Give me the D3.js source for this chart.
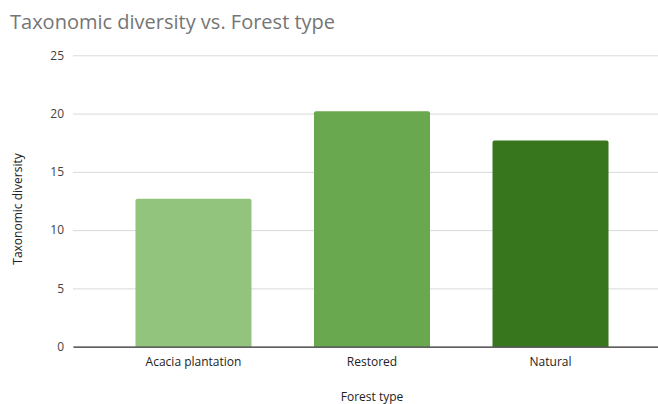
<!DOCTYPE html>
<html>
<head>
<meta charset="utf-8">
<script src="https://cdn.jsdelivr.net/npm/d3@7"></script>
<style>
  html, body { margin: 0; padding: 0; background: #fff; }
  svg { display: block; font-family: "Open Sans", sans-serif; }
</style>
</head>
<body>
<svg id="chart" width="658" height="404"></svg>
<script>
// Taxonomic diversity by forest type
const categories = ["Acacia plantation", "Restored", "Natural"];
const values = [12.7, 20.2, 17.7];
const barColors = ["#93c47d", "#6aa84f", "#38761d"];
const yTicks = [0, 5, 10, 15, 20, 25];

const svg = d3.select("#chart");
const plot = { left: 73, right: 671, top: 55.3, bottom: 346.7 };

const x = d3.scaleBand()
  .domain(categories)
  .range([plot.left, plot.right])
  .paddingInner(0.35)
  .paddingOuter(0.35);

const y = d3.scaleLinear()
  .domain([0, 25])
  .range([plot.bottom, plot.top]);

// Title
svg.append("text")
  .attr("x", 10)
  .attr("y", 29)
  .attr("fill", "#757575")
  .attr("font-size", 20)
  .text("Taxonomic diversity vs. Forest type");

// Gridlines and y tick labels
const yAxis = d3.axisLeft(y)
  .tickValues(yTicks)
  .tickSize(-(plot.right - plot.left))
  .tickPadding(9);

const gy = svg.append("g")
  .attr("transform", `translate(${plot.left},0)`)
  .call(yAxis);
gy.select(".domain").remove();
gy.selectAll(".tick line").attr("stroke", "#d9d9d9").attr("stroke-width", 1);
gy.selectAll(".tick text")
  .attr("fill", "#444")
  .attr("font-size", 12)
  .attr("font-family", "Open Sans, sans-serif");

// Bars with slightly rounded top corners
const r = 2;
svg.append("g")
  .selectAll("path")
  .data(categories)
  .join("path")
  .attr("fill", (d, i) => barColors[i])
  .attr("d", (d, i) => {
    const x0 = x(d), w = x.bandwidth();
    const yt = y(values[i]), yb = y(0);
    return `M${x0},${yb}V${yt + r}Q${x0},${yt} ${x0 + r},${yt}` +
           `H${x0 + w - r}Q${x0 + w},${yt} ${x0 + w},${yt + r}V${yb}Z`;
  });

// Baseline and category labels
const xAxis = d3.axisBottom(x).tickSize(0).tickPadding(11);
const gx = svg.append("g")
  .attr("transform", `translate(0,${plot.bottom})`)
  .call(xAxis);
gx.select(".domain").attr("stroke", "#333").attr("stroke-width", 1.2);
gx.selectAll(".tick text")
  .attr("fill", "#222")
  .attr("font-size", 12)
  .attr("font-family", "Open Sans, sans-serif");

// Axis titles
svg.append("text")
  .attr("x", 372)
  .attr("y", 401)
  .attr("text-anchor", "middle")
  .attr("fill", "#222")
  .attr("font-size", 12)
  .text("Forest type");

svg.append("text")
  .attr("transform", "translate(22,209) rotate(-90)")
  .attr("text-anchor", "middle")
  .attr("fill", "#222")
  .attr("font-size", 12)
  .text("Taxonomic diversity");
</script>
</body>
</html>
